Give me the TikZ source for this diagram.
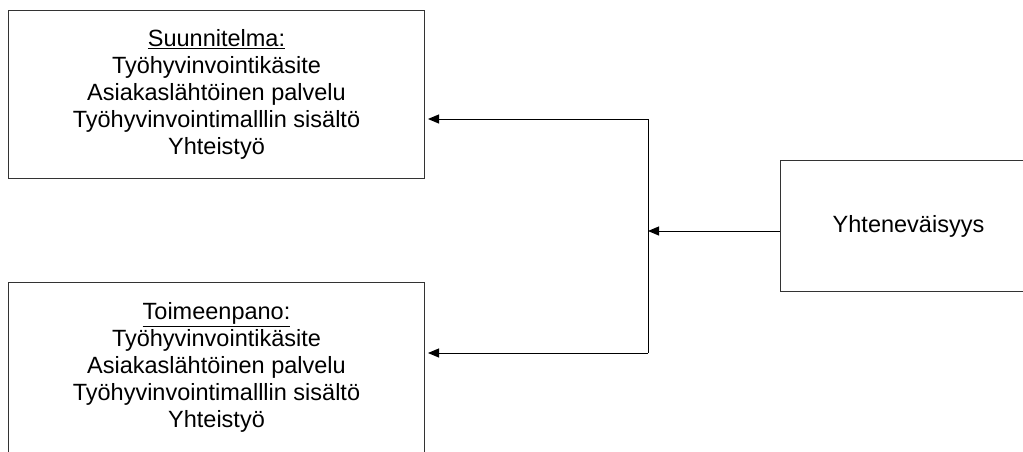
\documentclass[tikz,border=0pt]{standalone}
\usepackage{fontspec}
\setmainfont{Liberation Sans}
\usetikzlibrary{arrows.meta}
\begin{document}
\begin{tikzpicture}[x=1pt,y=-1pt,
  box/.style={draw=black!80, line width=1pt, inner sep=0pt, align=center,
    font=\fontsize{23.5}{27}\selectfont},
  conn/.style={draw=black, line width=1pt},
  arr/.style={conn, -{Triangle[length=11pt,width=9pt]}}]
\useasboundingbox (0,0) rectangle (1023,452);
\clip (0,0) rectangle (1023,452);
\node[box, minimum width=416pt, minimum height=168pt, anchor=north west] (plan) at (8,10)
  {\underline{Suunnitelma:}\\Työhyvinvointikäsite\\Asiakaslähtöinen palvelu\\Työhyvinvointimalllin sisältö\\Yhteistyö};
\node[box, minimum width=416pt, minimum height=170pt, anchor=north west] (impl) at (8,282)
  {\underline{Toimeenpano:}\\Työhyvinvointikäsite\\Asiakaslähtöinen palvelu\\Työhyvinvointimalllin sisältö\\Yhteistyö};
\node[box, minimum width=256pt, minimum height=131pt, anchor=north west] (yht) at (780,160)
  {Yhteneväisyys};
\coordinate (mid) at (648,231);
\coordinate (top) at (648,119);
\coordinate (bot) at (648,353);
\draw[arr] (yht.west |- mid) -- (mid);
\draw[conn] (top) -- (bot);
\draw[arr] (top) -- ([xshift=3pt]plan.east |- top);
\draw[arr] (bot) -- ([xshift=3pt]impl.east |- bot);
\end{tikzpicture}
\end{document}
